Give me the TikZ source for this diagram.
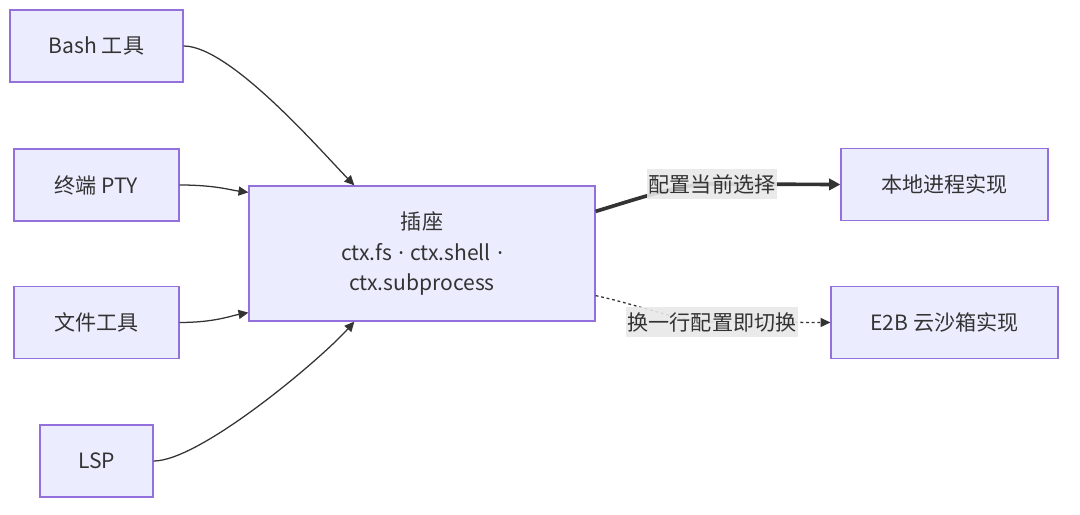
\documentclass[tikz,border=0pt]{standalone}
\usepackage{fontspec}
\setmainfont{Noto Sans CJK SC}
\newfontfamily\dotfont{Noto Sans}
\usepackage{tikz}
\usetikzlibrary{arrows.meta}
\definecolor{boxfill}{HTML}{ECECFF}
\definecolor{boxline}{HTML}{9370DB}
\definecolor{ink}{HTML}{333333}
\definecolor{lblbg}{HTML}{E8E8E8}
\newcommand{\sockdot}{\hspace{0.3em}{\dotfont ·}\hspace{0.3em}}

\begin{document}
\begin{tikzpicture}[
    box/.style={draw=boxline, fill=boxfill, line width=0.9pt, text=ink,
      minimum height=1.8cm, inner sep=2pt, font=\fontsize{15}{22}\selectfont},
    link/.style={draw=ink, line width=0.9pt, -{Triangle[length=7pt,width=6.5pt]}},
    lbl/.style={fill=lblbg, fill opacity=0.9, text opacity=1, text=ink,
      inner xsep=1pt, minimum height=0.75cm, font=\fontsize{15}{18}\selectfont}
  ]
    \useasboundingbox (0,0) rectangle (27,-12.85);

    \node[box, minimum width=4.325cm] (bash) at (2.4125,-1.15) {Bash 工具};
    \node[box, minimum width=4.125cm] (pty) at (2.4125,-4.625) {终端 PTY};
    \node[box, minimum width=4.125cm] (filetool) at (2.4125,-8.0625) {文件工具};
    \node[box, minimum width=2.825cm] (lsp) at (2.4125,-11.525) {LSP};
    \node[box, minimum width=8.65cm, minimum height=3.375cm, align=center] (socket) at (10.55,-6.3375)
      {插座\\ctx.fs\sockdot ctx.shell\sockdot\\ctx.subprocess};
    \node[box, minimum width=5.175cm] (local) at (23.6125,-4.6125) {本地进程实现};
    \node[box, minimum width=5.675cm] (e2b) at (23.6125,-8.0625) {E2B 云沙箱实现};

    \coordinate (la) at (17.8,-4.6);
    \coordinate (lb) at (17.8,-8.05);

    \draw[link] (bash.east) .. controls (5.75,-1.15) and (8.0,-3.75) .. ([xshift=2.65cm]socket.north west);
    \draw[link] (pty.east) .. controls (5.375,-4.625) and (5.75,-4.75) .. ([yshift=-0.175cm]socket.north west);
    \draw[link] (filetool.east) .. controls (5.375,-8.06) and (5.75,-7.9) .. ([yshift=0.225cm]socket.south west);
    \draw[link] (lsp.east) .. controls (5.0,-11.525) and (8.0,-9.0) .. ([xshift=2.65cm]socket.south west);

    \draw[link, line width=2.6pt, -{Triangle[length=8pt,width=8pt]}]
      ([yshift=-0.65cm]socket.north east) .. controls (16.0,-4.95) and (17.0,-4.6) .. (la) -- (local.west);
    \draw[link, dash pattern=on 2pt off 2pt]
      ([yshift=0.65cm]socket.south east) .. controls (16.0,-7.625) and (17.0,-8.05) .. (lb) -- (e2b.west);

    \node[lbl] (lblA) at (la) {配置当前选择};
    \node[lbl] (lblB) at (lb) {换一行配置即切换};
  \end{tikzpicture}
\end{document}
